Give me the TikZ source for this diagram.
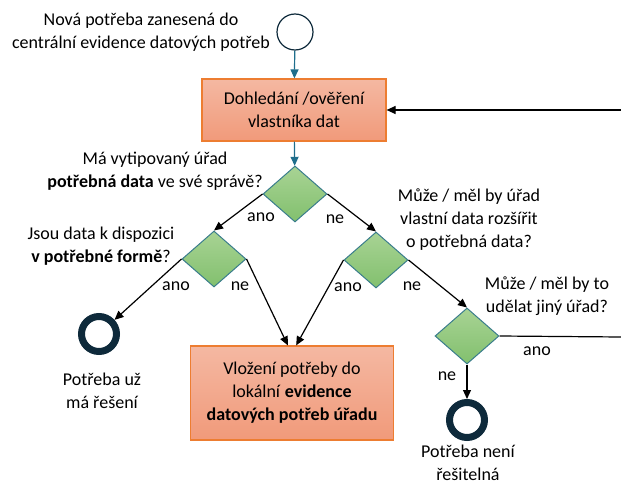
\documentclass[tikz,border=0pt]{standalone}
\usepackage{fontspec}
\setmainfont{Carlito}
\usetikzlibrary{shapes.geometric,arrows.meta}

\definecolor{flowteal}{HTML}{1F6E8C}
\definecolor{taskline}{HTML}{ED7D31}
\definecolor{tasktop}{HTML}{F4B8A2}
\definecolor{taskbot}{HTML}{F19A7A}
\definecolor{decline}{HTML}{3A7D8C}
\definecolor{dectop}{HTML}{A8D394}
\definecolor{decbot}{HTML}{82C06E}
\definecolor{endnavy}{HTML}{0E2A3B}

\begin{document}
\begin{tikzpicture}[x=1pt,y=-1pt,font=\fontsize{18}{23}\selectfont,
  task/.style={draw=taskline,line width=1.2pt,top color=tasktop,bottom color=taskbot,rectangle,align=center,inner sep=2pt},
  decision/.style={draw=decline,line width=1pt,top color=dectop,bottom color=decbot,diamond,inner sep=0pt,minimum width=64pt,minimum height=56pt},
  startev/.style={draw=endnavy,line width=1.2pt,circle,fill=white,minimum size=36pt,inner sep=0pt},
  endev/.style={draw=endnavy,line width=7pt,circle,minimum size=35pt,inner sep=0pt},
  note/.style={align=center,inner sep=0pt},
  flow/.style={draw=black,line width=1.2pt,-{Triangle[length=9pt,width=8pt]}},
  tealflow/.style={draw=flowteal,line width=1.2pt,-{Triangle[length=9pt,width=8pt]}}]
\useasboundingbox (0,0) rectangle (621,484);

\node[startev] (start) at (295,32) {};
\node[note] (startlbl) at (141,32) {Nová potřeba zanesená do\\centrální evidence datových potřeb};
\node[task,minimum width=184pt,minimum height=62pt] (owner) at (294,110) {Dohledání /ověření\\vlastníka dat};

\node[decision] (hasdata) at (295,194) {};
\node[note] (hasdatalbl) at (155,171) {Má vytipovaný úřad\\\textbf{potřebná data} ve své správě?};
\node[decision] (form) at (214,259) {};
\node[note] (formlbl) at (101,246) {Jsou data k dispozici\\\textbf{v potřebné formě}?};
\node[decision] (extend) at (376,260) {};
\node[note] (extendlbl) at (469,220) {Může / měl by úřad\\vlastní data rozšířit\\o potřebná data?};
\node[decision] (other) at (467,336) {};
\node[note] (otherlbl) at (547,296) {Může / měl by to\\udělat jiný úřad?};

\node[task,minimum width=203pt,minimum height=94pt] (local) at (292,393) {Vložení potřeby do\\lokální \textbf{evidence}\\\textbf{datových potřeb úřadu}};
\node[endev] (solved) at (99,334) {};
\node[note] (solvedlbl) at (102,391) {Potřeba už\\má řešení};
\node[endev] (unsolv) at (467,420) {};
\node[note] (unsolvlbl) at (468,463) {Potřeba není\\řešitelná};

\coordinate (back) at (621,110);
\coordinate (loop) at (621,337);

% answers
\node[note] (a1) at (261,217) {ano};
\node[note] (n1) at (335,219) {ne};
\node[note] (a2) at (176,286) {ano};
\node[note] (n2) at (240,286) {ne};
\node[note] (a3) at (348,287) {ano};
\node[note] (n3) at (412,286) {ne};
\node[note] (a4) at (537,351) {ano};
\node[note] (n4) at (447,376) {ne};

\draw[tealflow] (start) -- (owner);
\draw[tealflow] (owner) -- (hasdata);
\draw[flow] (back) -- (owner.east);
\foreach \i/\j in {hasdata.west/form.north,hasdata.east/extend.north,form.west/solved,form.east/local.95,extend.west/local.85,extend.east/other.north,other.south/unsolv} {
  \draw[flow] (\i) -- (\j);
}
\draw[line width=1.2pt] (other.east) -- (loop);
\end{tikzpicture}
\end{document}
